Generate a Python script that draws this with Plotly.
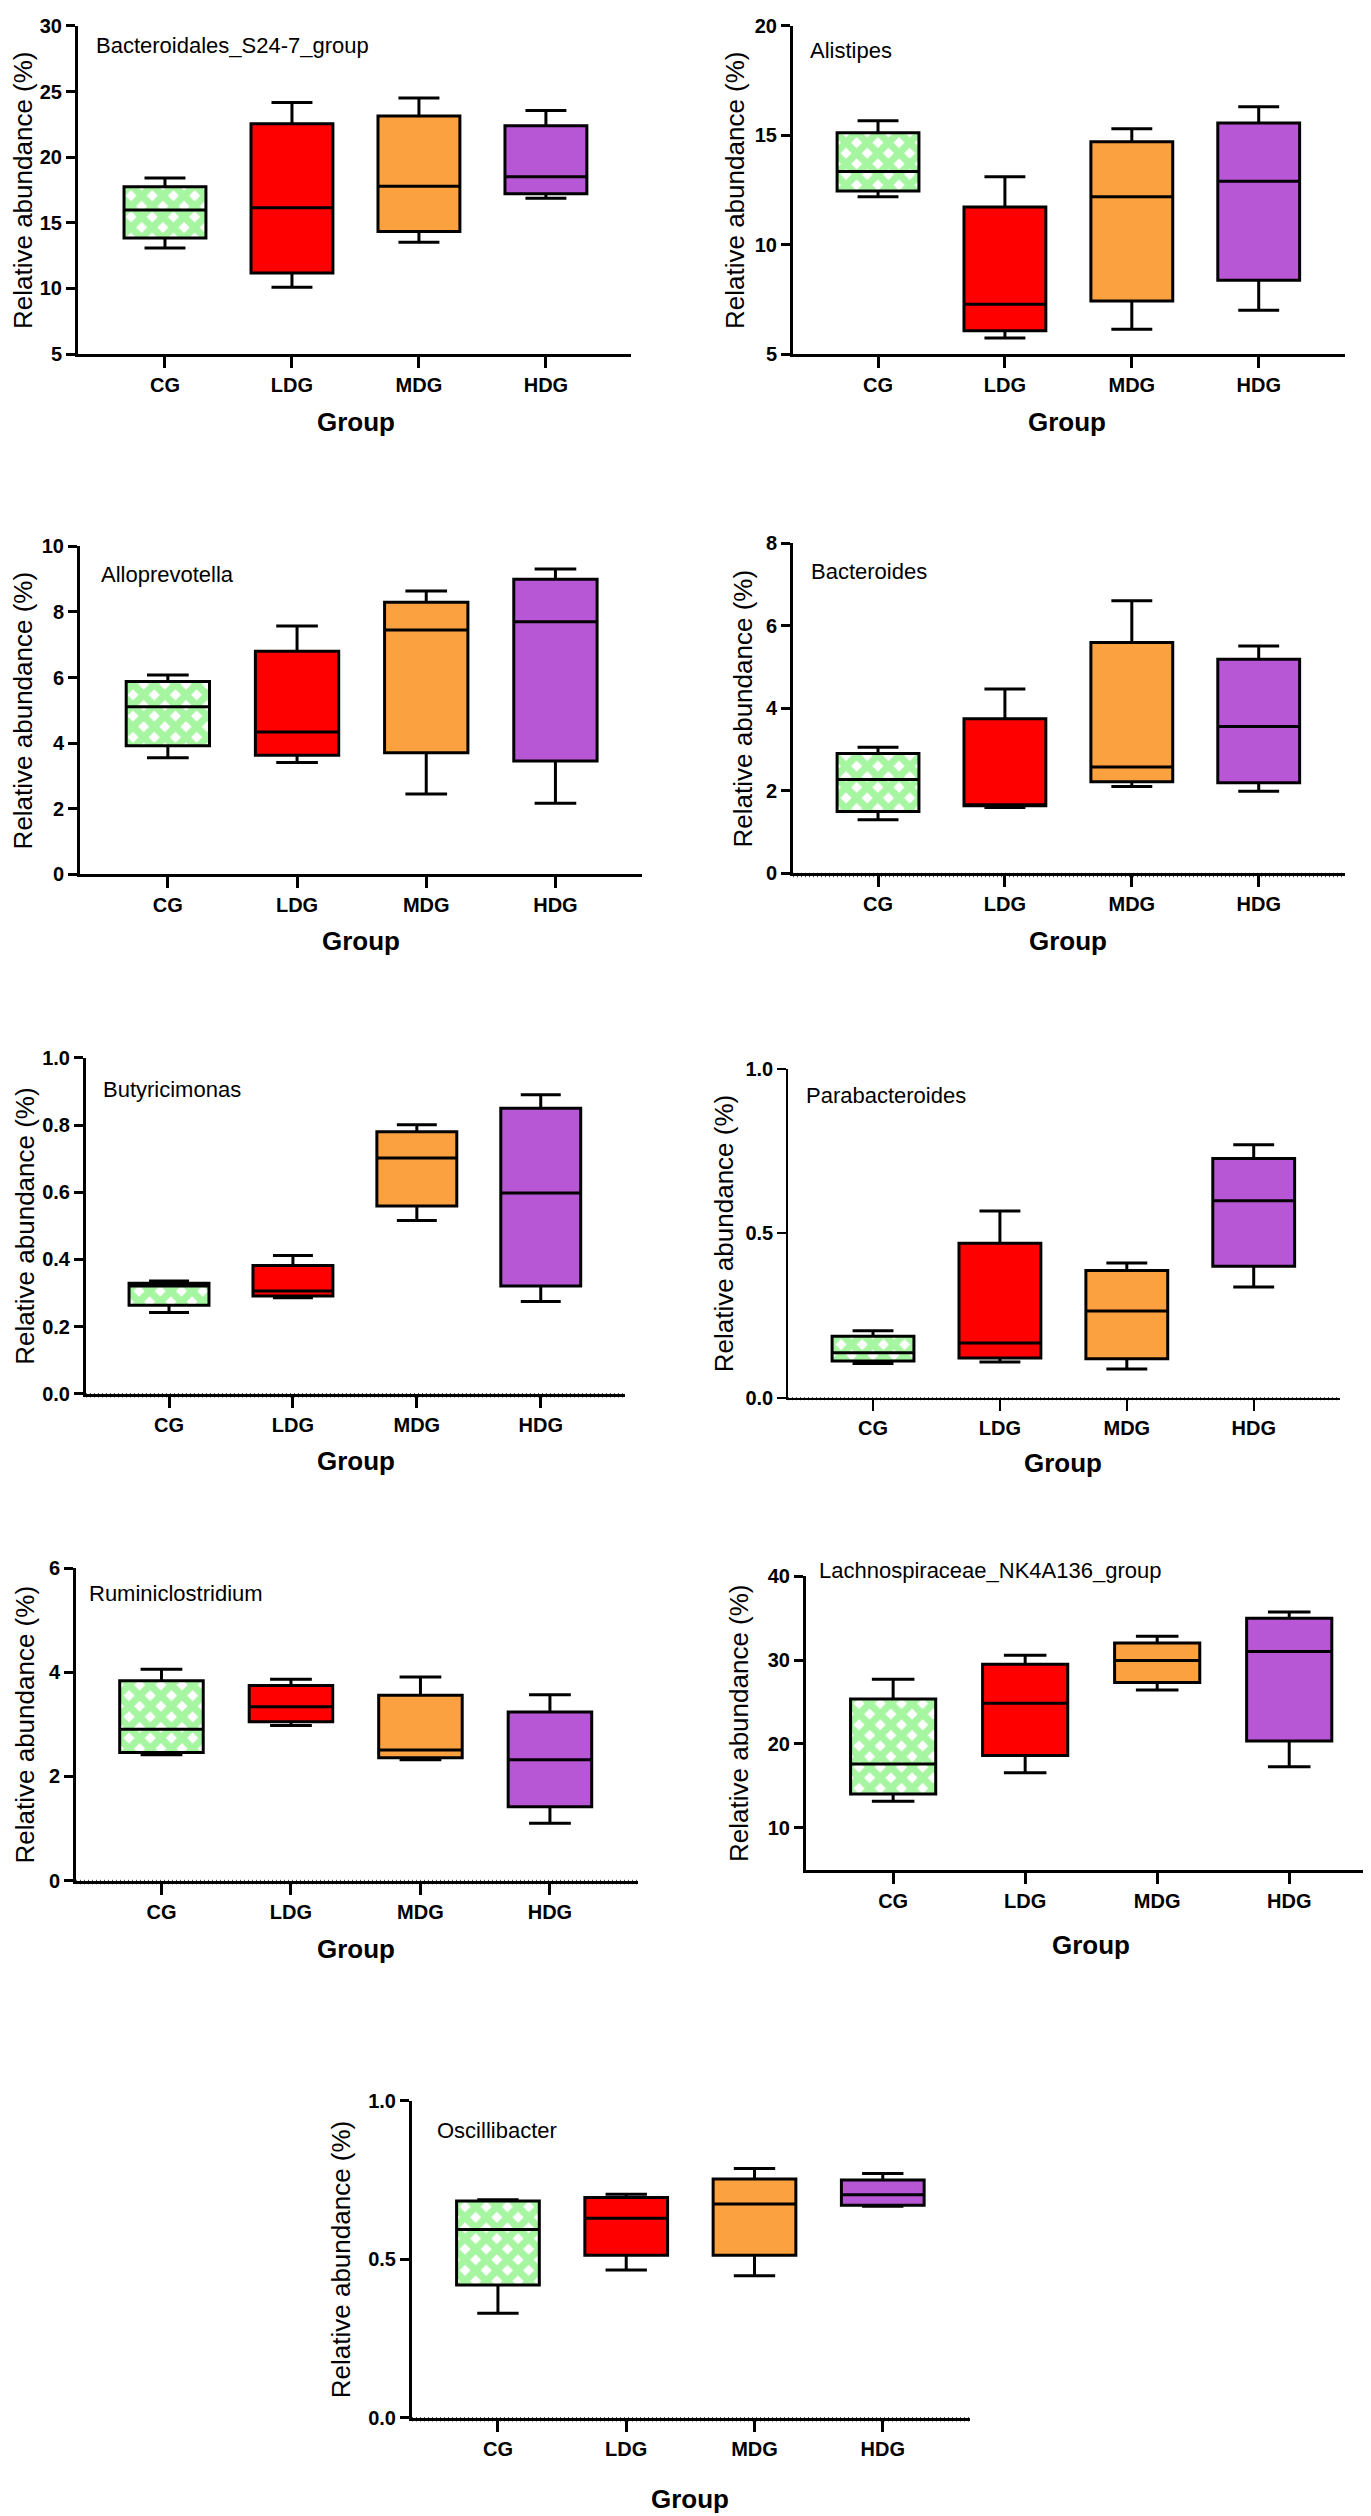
import plotly.graph_objects as go

W, H = 1371, 2516
groups = ["CG", "LDG", "MDG", "HDG"]
colors = ["#A6F5A0", "#FF0000", "#FCA140", "#B857D6"]

# ---- data: min, Q1, median, Q3, max for CG, LDG, MDG, HDG ----
s24_7 = {"min": [13.08, 10.09, 13.51, 16.88], "q1": [13.84, 11.17, 14.34, 17.21],
         "med": [15.98, 16.15, 17.79, 18.50], "q3": [17.74, 22.55, 23.13, 22.40],
         "max": [18.42, 24.16, 24.51, 23.55]}
alistipes = {"min": [12.19, 5.73, 6.13, 7.00], "q1": [12.45, 6.06, 7.43, 8.37],
             "med": [13.35, 7.28, 12.19, 12.90], "q3": [15.12, 11.72, 14.71, 15.56],
             "max": [15.66, 13.10, 15.30, 16.31]}
alloprevotella = {"min": [3.56, 3.41, 2.45, 2.17], "q1": [3.92, 3.63, 3.71, 3.46],
                  "med": [5.11, 4.34, 7.45, 7.70], "q3": [5.88, 6.80, 8.30, 9.00],
                  "max": [6.08, 7.57, 8.64, 9.31]}
bacteroides = {"min": [1.30, 1.60, 2.11, 1.99], "q1": [1.50, 1.64, 2.22, 2.20],
               "med": [2.28, 1.66, 2.58, 3.56], "q3": [2.91, 3.75, 5.60, 5.19],
               "max": [3.06, 4.47, 6.61, 5.51]}
butyricimonas = {"min": [0.242, 0.286, 0.516, 0.275], "q1": [0.264, 0.291, 0.559, 0.321],
                 "med": [0.321, 0.306, 0.702, 0.598], "q3": [0.329, 0.382, 0.780, 0.850],
                 "max": [0.336, 0.412, 0.801, 0.890]}
parabacteroides = {"min": [0.104, 0.109, 0.088, 0.337], "q1": [0.112, 0.121, 0.119, 0.400],
                   "med": [0.137, 0.167, 0.264, 0.599], "q3": [0.187, 0.470, 0.387, 0.727],
                   "max": [0.204, 0.568, 0.410, 0.769]}
ruminiclostridium = {"min": [2.42, 2.98, 2.32, 1.10], "q1": [2.46, 3.05, 2.36, 1.42],
                     "med": [2.91, 3.34, 2.51, 2.32], "q3": [3.84, 3.75, 3.56, 3.24],
                     "max": [4.06, 3.87, 3.91, 3.57]}
lachno = {"min": [13.15, 16.57, 26.42, 17.28], "q1": [14.02, 18.62, 27.32, 20.35],
          "med": [17.60, 24.84, 29.96, 31.02], "q3": [25.35, 29.49, 32.05, 35.00],
          "max": [27.72, 30.59, 32.83, 35.75]}
oscillibacter = {"min": [0.330, 0.466, 0.448, 0.667], "q1": [0.419, 0.5125, 0.5125, 0.670],
                 "med": [0.594, 0.629, 0.674, 0.703], "q3": [0.684, 0.695, 0.753, 0.750],
                 "max": [0.6875, 0.705, 0.786, 0.770]}

names = ["Bacteroidales_S24-7_group", "Alistipes", "Alloprevotella", "Bacteroides",
         "Butyricimonas", "Parabacteroides", "Ruminiclostridium",
         "Lachnospiraceae_NK4A136_group", "Oscillibacter"]
datasets = [s24_7, alistipes, alloprevotella, bacteroides, butyricimonas,
            parabacteroides, ruminiclostridium, lachno, oscillibacter]
yranges = [[5, 30], [5, 20], [0, 10], [0, 8], [0, 1], [0, 1], [0, 6], [5, 40], [0, 1]]
yticks = [[5, 10, 15, 20, 25, 30], [5, 10, 15, 20], [0, 2, 4, 6, 8, 10], [0, 2, 4, 6, 8],
          [0, 0.2, 0.4, 0.6, 0.8, 1.0], [0, 0.5, 1.0], [0, 2, 4, 6], [10, 20, 30, 40],
          [0, 0.5, 1.0]]
ytext = [None, None, None, None,
         ["0.0", "0.2", "0.4", "0.6", "0.8", "1.0"], ["0.0", "0.5", "1.0"], None, None,
         ["0.0", "0.5", "1.0"]]
dotted_base = [False, False, False, True, True, True, True, False, True]

# ---- layout geometry in pixels ----
# (x_left, x_right, y_top, y_bottom, xr0, xr1, axis_lw, name_xy, ytitle_x, group_xy)
geo = [
    (70, 623, 7, 338, -0.685, 3.67, 3, (86, 27), 15, (348, 407)),
    (785, 1337, 7, 338, -0.67, 3.68, 3, (800, 32), 727, (1059, 407)),
    (72, 634, 532, 863, -0.68, 3.67, 3, (91, 560), 15, (353, 930)),
    (785, 1337, 529, 862, -0.67, 3.68, 3, (801, 557), 735, (1060, 930)),
    (78, 617, 1048, 1387, -0.67, 3.68, 3, (93, 1080), 17, (348, 1455)),
    (780, 1332, 1059, 1391, -0.67, 3.68, 1.6, (796, 1086), 716, (1055, 1457)),
    (68, 630, 1563, 1878, -0.66, 3.68, 3, (79, 1588), 17, (348, 1947)),
    (798, 1371, 1571, 1867, -0.66, 3.68, 3, (809, 1565), 731, (1083, 1943)),
    (404, 962, 2100, 2420, -0.67, 3.68, 3, (427, 2130), 333, (682, 2502)),
]

FONT = "Liberation Sans, Arial, Helvetica, sans-serif"
BOXW = 0.645

fig = go.Figure()
annotations = []
shapes = []
layout_axes = {}

for i, (nm, d, yr, yt, ytt, g) in enumerate(zip(names, datasets, yranges, yticks, ytext, geo)):
    k = i + 1
    xa, ya = f"x{k}", f"y{k}"
    x0, x1, yt0, yb0, xr0, xr1, lw, nxy, ytx, gxy = g
    # patterned CG box fill
    fig.add_trace(go.Bar(
        x=[groups[0]], y=[d["q3"][0] - d["q1"][0]], base=[d["q1"][0]], width=BOXW,
        marker=dict(color="white", line=dict(width=0),
                    pattern=dict(shape="x", fgcolor=colors[0], bgcolor="white",
                                 size=15, solidity=0.72, fillmode="replace")),
        xaxis=xa, yaxis=ya, showlegend=False, hoverinfo="skip"))
    for j, grp in enumerate(groups):
        fig.add_trace(go.Box(
            x=[grp], q1=[d["q1"][j]], median=[d["med"][j]], q3=[d["q3"][j]],
            lowerfence=[d["min"][j]], upperfence=[d["max"][j]],
            fillcolor="rgba(0,0,0,0)" if j == 0 else colors[j],
            line=dict(color="black", width=3), whiskerwidth=0.5, width=BOXW,
            boxpoints=False, xaxis=xa, yaxis=ya, showlegend=False, name=grp))
    sfx = "" if k == 1 else str(k)
    layout_axes["xaxis" + sfx] = dict(
        domain=[x0 / W, x1 / W], anchor=ya, type="category",
        categoryorder="array", categoryarray=groups, range=[xr0, xr1],
        showline=True, linecolor="black", linewidth=lw, ticks="outside",
        ticklen=11, tickwidth=lw, tickcolor="black", showgrid=False, zeroline=False,
        tickfont=dict(family=FONT, size=20, color="black", weight="bold"),
        fixedrange=True)
    layout_axes["yaxis" + sfx] = dict(
        domain=[1 - yb0 / H, 1 - yt0 / H], anchor=xa, range=yr,
        tickvals=yt, ticktext=ytt if ytt else [str(v) for v in yt],
        showline=True, linecolor="black", linewidth=lw, ticks="outside",
        ticklen=9, tickwidth=lw, tickcolor="black", showgrid=False, zeroline=False,
        tickfont=dict(family=FONT, size=20, color="black", weight="bold"),
        fixedrange=True)
    if dotted_base[i]:
        shapes.append(dict(type="line", xref=f"{xa} domain", yref="paper",
                           x0=0, x1=1, y0=1 - yb0 / H - lw / 2 / H,
                           y1=1 - yb0 / H - lw / 2 / H,
                           line=dict(color="#555555", width=lw + 1.5, dash="1px,3px"),
                           layer="below"))
    annotations.append(dict(text=nm, x=nxy[0] / W, y=1 - nxy[1] / H, xref="paper",
                            yref="paper", xanchor="left", yanchor="middle", showarrow=False,
                            font=dict(family=FONT, size=22, color="black")))
    annotations.append(dict(text="Relative abundance (%)", x=ytx / W,
                            y=1 - (yt0 + yb0) / 2 / H, xref="paper", yref="paper",
                            xanchor="center", yanchor="middle", textangle=-90,
                            showarrow=False, font=dict(family=FONT, size=26, color="black")))
    annotations.append(dict(text="<b>Group</b>", x=gxy[0] / W, y=1 - gxy[1] / H,
                            xref="paper", yref="paper", xanchor="center", yanchor="middle",
                            showarrow=False, font=dict(family=FONT, size=26, color="black")))

fig.update_layout(
    width=W, height=H, margin=dict(l=0, r=0, t=0, b=0),
    paper_bgcolor="white", plot_bgcolor="white", showlegend=False,
    boxmode="overlay", barmode="overlay", annotations=annotations, shapes=shapes,
    **layout_axes)

fig.write_html("out.html")
